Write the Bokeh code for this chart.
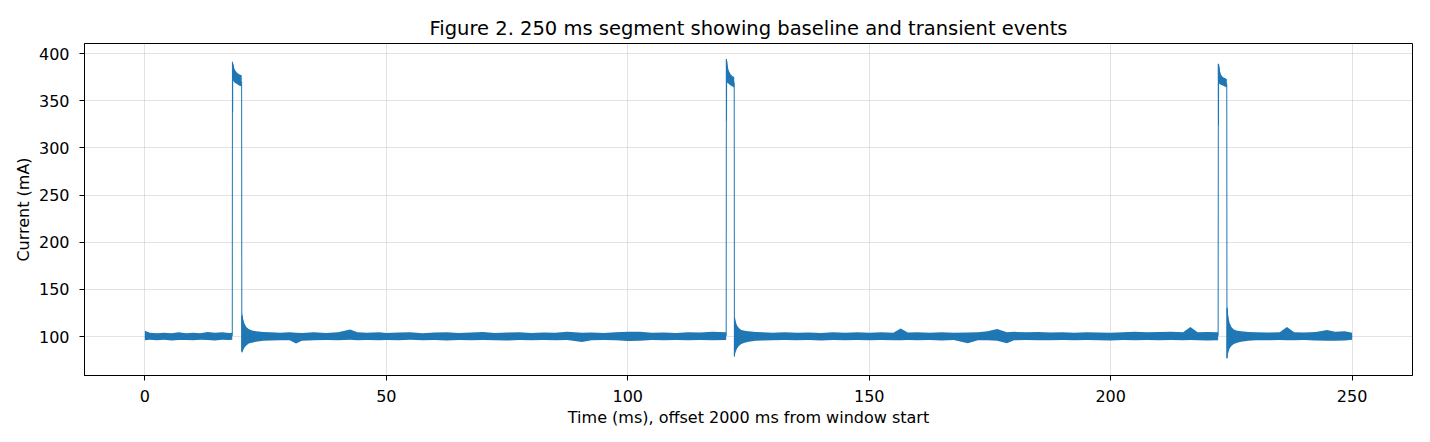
from bokeh.plotting import figure
from bokeh.models import Range1d, FixedTicker
from bokeh.embed import file_html
from bokeh.resources import INLINE

# ---------------- data ----------------
title_text = "Figure 2. 250 ms segment showing baseline and transient events"
x_label = "Time (ms), offset 2000 ms from window start"
y_label = "Current (mA)"
x_ticks = [0, 50, 100, 150, 200, 250]
y_ticks = [100, 150, 200, 250, 300, 350, 400]

# main trace (key points of the signal, ms / mA)
trace_t = [0, 18.1, 18.14, 18.17, 18.2, 18.6, 19.2, 20.04, 20.08, 20.1, 20.3, 21,
           120.38, 120.42, 120.45, 120.48, 120.8, 121.4, 122.04, 122.08, 122.12, 122.3, 123,
           222.25, 222.3, 222.33, 222.36, 222.7, 223.4, 224.04, 224.08, 224.12, 224.3, 225, 250]
trace_mA = [100, 101, 391, 338, 389, 378, 373, 370, 84, 122, 92, 100,
            101, 394, 329, 392, 377, 372, 369, 79, 120, 90, 100,
            101, 389, 324, 388, 374, 370, 368, 77, 130, 90, 100, 100]

# noise envelope of the trace (None separates segments)
env_t = [0.0, 1.0, 2.5, 4, 5.5, 7, 8.5, 10, 11.5, 13, 14.5, 16, 17.5, 18.1, None,
         18.18, 18.3, 18.6, 19.0, 19.5, 20.05, None,
         20.08, 20.3, 20.6, 21.0, 21.5, 22.2, 23, 24.5, 26, 28, 30, 31.3, 32.5, 35, 37.5, 40,
         42.5, 44, 46, 48.5, 50, 52.5, 55, 57.5, 60, 62.5, 65, 67.5, 70, 72.5, 75, 77.5, 80,
         82.5, 85, 87.5, 90.5, 92.5, 95, 97.5, 100, 102.5, 105, 107.5, 110, 112.5, 115, 117.5,
         120.38, None,
         120.45, 120.6, 120.9, 121.3, 121.7, 122.05, None,
         122.1, 122.3, 122.6, 123.0, 123.5, 124.2, 125, 126.5, 128, 130, 132.5, 135, 137.5,
         140, 142.5, 145, 147.5, 150, 152.5, 155, 156.5, 158, 160, 162.5, 165, 167.5, 170.4,
         172.5, 174.5, 176.5, 178.5, 180, 182.5, 185, 187.5, 190, 192.5, 195, 197.5, 200,
         202.5, 205, 207.5, 210, 212.5, 215, 216.5, 218, 220, 222.25, None,
         222.33, 222.5, 222.8, 223.2, 223.6, 224.05, None,
         224.1, 224.3, 224.6, 225.0, 225.5, 226.2, 227, 228.5, 230, 232.5, 235, 236.5, 238,
         240, 242.5, 244.8, 246.5, 248.5, 250]
env_hi = [106, 104, 103.5, 104, 103.5, 104.5, 103.6, 104, 103.5, 104.8, 104, 104.5, 103.8, 104, None,
          393, 388, 383, 380, 378, 377, None,
          126, 120, 114, 110, 108, 106.5, 105.5, 104.8, 104.5, 104, 104.5, 104, 103.8, 104.5, 103.8, 104.5,
          107.5, 104.5, 104, 104.5, 103.8, 104.2, 104.5, 103.6, 104.2, 104.5, 103.8, 104.2, 104.8, 103.8, 104.2, 104.5, 103.8,
          104.3, 104, 105, 104, 104.2, 103.8, 104.5, 105, 105.2, 104, 104.3, 103.8, 104.5, 104.2, 105,
          104.5, None,
          395, 388, 382, 378, 376, 375, None,
          122, 117, 112, 109, 107, 106, 105.5, 104.8, 104.5, 104, 104.5, 104, 104.3,
          103.8, 104.5, 104, 104.6, 104, 104.5, 104, 108.5, 104.2, 104.5, 104, 104.5, 104, 104.2,
          104.5, 105.5, 108, 104.5, 105, 104.5, 104.8, 104.3, 104.5, 104, 104.6, 104.2, 104,
          104.5, 105, 104.5, 104.8, 105, 104.5, 110, 104.5, 104.8, 104.5, None,
          390, 384, 378, 375, 374, 373, None,
          133, 124, 115, 110, 107.5, 106, 105.5, 104.8, 104.5, 104.2, 104.5, 110, 104.5,
          104.2, 104.8, 107, 105, 105.5, 104]
env_lo = [96.0, 96.5, 96, 96.5, 95.8, 96.2, 96.4, 96, 96.6, 96.2, 95.8, 96.5, 96.2, 96.5, None,
          372, 371, 369, 368, 366, 365, None,
          82, 85, 88, 90.5, 92.5, 93.5, 94.5, 95.5, 95.8, 96, 96, 92.5, 95.5, 96, 96.2, 96,
          96.5, 96, 96.3, 96, 96.2, 96, 96.5, 96, 96.2, 95.8, 96.3, 96, 96.3, 96, 95.8, 96.2, 96,
          96.4, 96, 96.2, 94.2, 96, 96.3, 96, 95.3, 95.5, 96.2, 96, 96.3, 96, 96.2, 96,
          96.2, None,
          370, 369, 368, 366, 365, 364, None,
          78, 83, 87, 90, 92, 93.5, 94.5, 95.5, 95.8, 96, 96.2, 96, 96.2,
          95.8, 96.2, 96, 96.3, 96, 96.2, 96, 96, 96.2, 96, 96.3, 95.8, 96.2, 92.8,
          96, 96, 95.5, 92.8, 96, 96.2, 96, 96, 96.2, 96, 96.2, 96, 95.8,
          96.2, 96, 96.2, 96, 96.2, 96, 96.2, 96, 95.8, 96, None,
          369, 368, 367, 366, 365, 364, None,
          76.5, 82, 87, 90, 92, 93.5, 94.5, 95.5, 96, 96, 96.2, 96, 96,
          96.2, 95.8, 95.5, 95.5, 95.8, 96.5]

# ---------------- figure ----------------
C0 = "#1f77b4"
FONT = "DejaVu Sans"

p = figure(width=1430, height=442,
           x_range=Range1d(-12.5, 262.5), y_range=Range1d(58.7, 410.6),
           output_backend="svg", toolbar_location=None,
           min_border_left=84, min_border_right=18,
           min_border_top=43, min_border_bottom=67,
           title=title_text)

p.background_fill_color = "white"
p.border_fill_color = "white"
p.outline_line_color = "black"
p.outline_line_width = 1
p.outline_line_alpha = 1

p.title.text_font = FONT
p.title.text_font_style = "normal"
p.title.text_font_size = "19.5px"
p.title.text_color = "black"
p.title.align = "center"
p.title.standoff = 8

# noise envelope segments
seg_t, seg_hi, seg_lo = [], [], []
for t, hi, lo in zip(env_t + [None], env_hi + [None], env_lo + [None]):
    if t is None:
        if seg_t:
            p.varea(x=seg_t, y1=seg_lo, y2=seg_hi, fill_color=C0, fill_alpha=1.0)
        seg_t, seg_hi, seg_lo = [], [], []
    else:
        seg_t.append(t); seg_hi.append(hi); seg_lo.append(lo)

p.line(trace_t, trace_mA, line_color=C0, line_width=1.0)

# axes
for ax in (p.xaxis, p.yaxis):
    ax.axis_line_color = "black"
    ax.axis_line_width = 1
    ax.major_tick_line_color = "black"
    ax.major_tick_line_width = 1
    ax.major_tick_out = 5
    ax.major_tick_in = 0
    ax.minor_tick_line_color = None
    ax.major_label_text_font = FONT
    ax.major_label_text_font_size = "16px"
    ax.major_label_text_color = "black"
    ax.axis_label_text_font = FONT
    ax.axis_label_text_font_size = "16px"
    ax.axis_label_text_font_style = "normal"
    ax.axis_label_text_color = "black"

p.xaxis.ticker = FixedTicker(ticks=x_ticks)
p.yaxis.ticker = FixedTicker(ticks=y_ticks)
p.xaxis.axis_label = x_label
p.yaxis.axis_label = y_label
p.xaxis.major_label_standoff = 9
p.yaxis.major_label_standoff = 10
p.xaxis.axis_label_standoff = 3
p.yaxis.axis_label_standoff = 3

p.xgrid.grid_line_color = "#b0b0b0"
p.ygrid.grid_line_color = "#b0b0b0"
p.xgrid.grid_line_alpha = 0.35
p.ygrid.grid_line_alpha = 0.35
p.xgrid.grid_line_width = 1
p.ygrid.grid_line_width = 1
p.xgrid.ticker = FixedTicker(ticks=x_ticks)
p.ygrid.ticker = FixedTicker(ticks=y_ticks)

open("out.html", "w").write(file_html(p, INLINE))
